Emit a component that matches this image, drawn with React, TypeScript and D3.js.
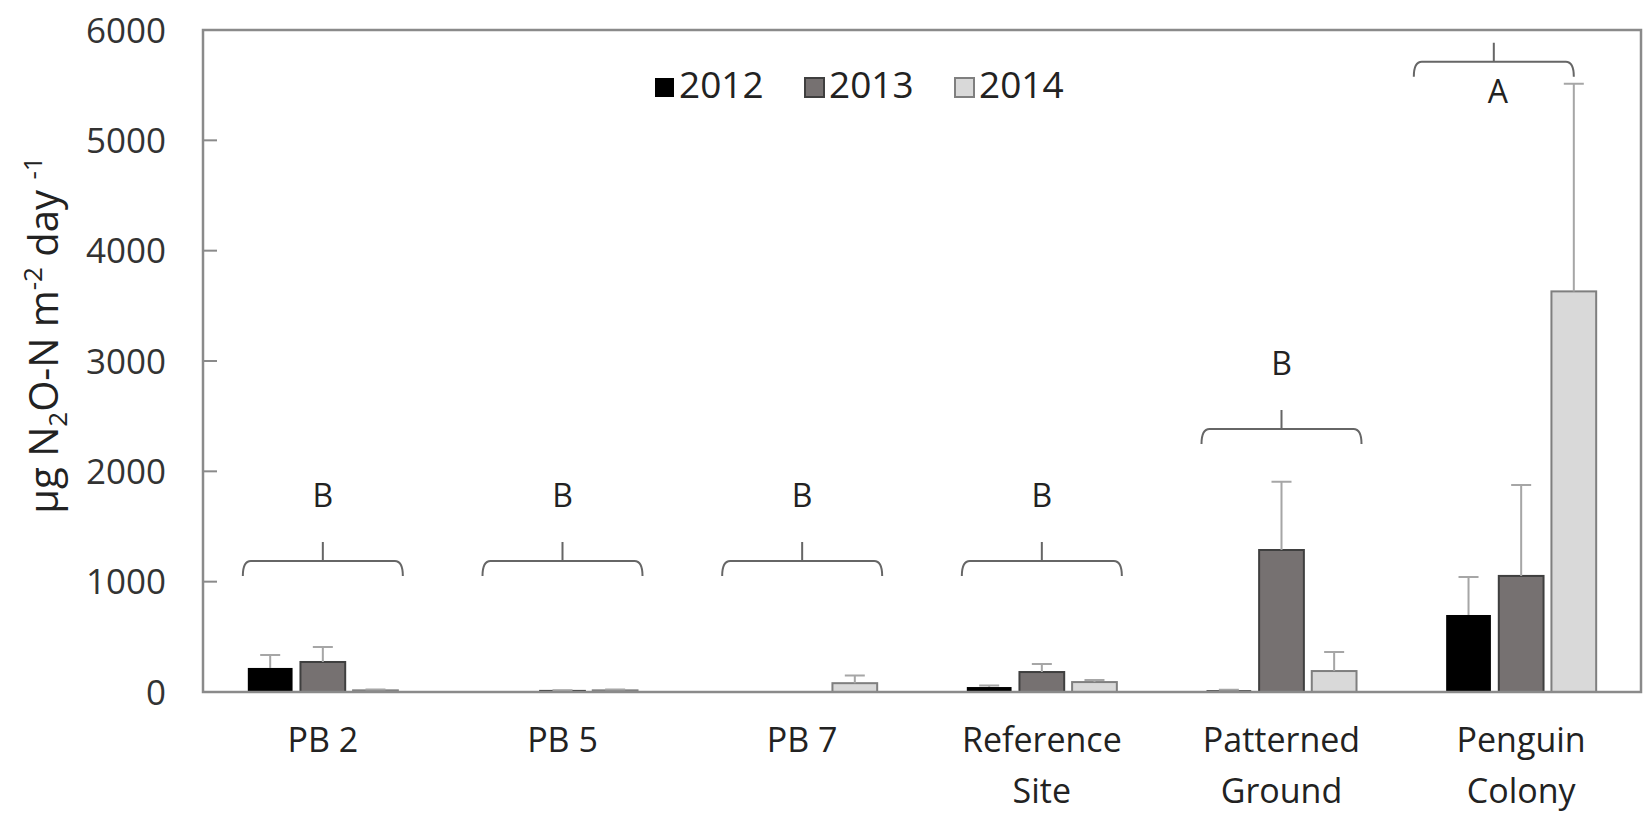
import React, { useEffect, useRef } from 'react';
import * as d3 from 'd3';

// sites and years
const categories = ['PB 2', 'PB 5', 'PB 7', 'Reference Site', 'Patterned Ground', 'Penguin Colony'];
const years = ['2012', '2013', '2014'];

// mean flux per year (µg N2O-N m-2 day-1), one entry per site
const values2012 = [218, 0, 0, 45, 15, 698];
const values2013 = [272, 10, 0, 181, 1287, 1052];
const values2014 = [15, 15, 80, 90, 190, 3631];

// upper error (SE) per year
const errors2012 = [117, 0, 0, 15, 5, 345];
const errors2013 = [136, 5, 0, 73, 618, 824];
const errors2014 = [8, 8, 70, 19, 173, 1881];

// significance letters and bracket level (in data units)
const letters = ['B', 'B', 'B', 'B', 'B', 'A'];
const bracketLevels = [1188, 1188, 1188, 1188, 2384, 5712];

const yTicks = [0, 1000, 2000, 3000, 4000, 5000, 6000];

const W = 1644;
const H = 817;
const FONT = '"Open Sans", "DejaVu Sans", sans-serif';

function App() {
    const ref = useRef<SVGSVGElement>(null);

    useEffect(() => {
        const svg = d3.select(ref.current);
        svg.selectAll('*').remove();

        const left = 203, right = 1641, top = 30, bottom = 692;

        const x0 = d3.scaleBand<string>()
            .domain(categories)
            .range([left, right])
            .paddingInner(0.374)
            .paddingOuter(0.187);

        const x1 = d3.scaleBand<string>()
            .domain(years)
            .range([0, x0.bandwidth()])
            .paddingInner(0.15);

        const y = d3.scaleLinear().domain([0, 6000]).range([bottom, top]);

        const fills = ['#000000', '#767171', '#d9d9d9'];
        const strokes = ['#000000', '#3f3f3f', '#7f7f7f'];
        const valueSets = [values2012, values2013, values2014];
        const errorSets = [errors2012, errors2013, errors2014];

        // y tick labels
        svg.append('g')
            .selectAll('text')
            .data(yTicks)
            .enter().append('text')
            .attr('x', 166)
            .attr('y', d => y(d))
            .attr('dy', '0.36em')
            .attr('text-anchor', 'end')
            .attr('font-family', FONT)
            .attr('font-size', 35)
            .attr('fill', '#333')
            .text(d => d);

        // inner tick marks
        svg.append('g')
            .selectAll('line')
            .data(yTicks.slice(1, -1))
            .enter().append('line')
            .attr('x1', left)
            .attr('x2', left + 14)
            .attr('y1', d => y(d))
            .attr('y2', d => y(d))
            .attr('stroke', '#8a8a8a')
            .attr('stroke-width', 2);

        // bars
        const groups = svg.append('g')
            .selectAll('g')
            .data(categories)
            .enter().append('g')
            .attr('transform', d => `translate(${x0(d)},0)`);

        years.forEach((yr, k) => {
            groups.append('rect')
                .attr('x', x1(yr)!)
                .attr('width', x1.bandwidth())
                .attr('y', (_, i) => y(valueSets[k][i]))
                .attr('height', (_, i) => bottom - y(valueSets[k][i]))
                .attr('fill', fills[k])
                .attr('stroke', strokes[k])
                .attr('stroke-width', k === 0 ? 0 : 2);

            // error bars (upper only)
            const cx = x1(yr)! + x1.bandwidth() / 2;
            groups.filter((_, i) => errorSets[k][i] > 0)
                .append('path')
                .attr('d', d => {
                    const i = categories.indexOf(d);
                    const y0 = y(valueSets[k][i]);
                    const y1 = y(valueSets[k][i] + errorSets[k][i]);
                    return `M${cx},${y0}V${y1}M${cx - 10},${y1}H${cx + 10}`;
                })
                .attr('stroke', '#a6a6a6')
                .attr('stroke-width', 2)
                .attr('fill', 'none');
        });

        // plot frame
        svg.append('rect')
            .attr('x', left)
            .attr('y', top)
            .attr('width', right - left)
            .attr('height', bottom - top)
            .attr('fill', 'none')
            .attr('stroke', '#8a8a8a')
            .attr('stroke-width', 2.5);

        // brackets and letters
        categories.forEach((c, i) => {
            const hw = 80;
            let cx = x0(c)! + x0.bandwidth() / 2;
            // if the tallest error bar reaches the bracket, end the bracket on it
            const lastTop = values2014[i] + errors2014[i];
            if (lastTop > bracketLevels[i] - 300) {
                cx = x0(c)! + x1(years[2])! + x1.bandwidth() / 2 - hw;
            }
            const by = y(bracketLevels[i]);
            const g = svg.append('g');
            g.append('path')
                .attr('d', `M${cx - hw},${by + 15}Q${cx - hw},${by} ${cx - hw + 8},${by}H${cx + hw - 8}Q${cx + hw},${by} ${cx + hw},${by + 15}M${cx},${by}V${by - 19}`)
                .attr('fill', 'none')
                .attr('stroke', '#666')
                .attr('stroke-width', 2);
            const below = by - 60 < top;
            g.append('text')
                .attr('x', cx + (below ? 4 : 0))
                .attr('y', below ? by + 41 : by - 54)
                .attr('text-anchor', 'middle')
                .attr('font-family', FONT)
                .attr('font-size', 32)
                .attr('fill', '#222')
                .text(letters[i]);
        });

        // category labels, wrapped onto two lines
        svg.append('g')
            .selectAll('text')
            .data(categories)
            .enter().append('text')
            .attr('text-anchor', 'middle')
            .attr('font-family', FONT)
            .attr('font-size', 34)
            .attr('fill', '#222')
            .each(function (d) {
                const t = d3.select(this);
                const cx = x0(d)! + x0.bandwidth() / 2;
                const words = d.startsWith('PB') ? [d] : d.split(' ');
                words.forEach((w, j) => {
                    t.append('tspan').attr('x', cx).attr('y', 752 + j * 51).text(w);
                });
            });

        // legend
        const legend = svg.append('g').attr('transform', 'translate(655,78)');
        years.forEach((yr, k) => {
            const lg = legend.append('g').attr('transform', `translate(${k * 150},0)`);
            lg.append('rect')
                .attr('width', 19)
                .attr('height', 19)
                .attr('fill', fills[k])
                .attr('stroke', strokes[k])
                .attr('stroke-width', k === 0 ? 0 : 2);
            lg.append('text')
                .attr('x', 24)
                .attr('y', 20)
                .attr('font-family', FONT)
                .attr('font-size', 37)
                .attr('fill', '#222')
                .text(yr);
        });

        // y axis title
        const title = svg.append('text')
            .attr('transform', 'translate(58,335) rotate(-90)')
            .attr('text-anchor', 'middle')
            .attr('font-family', FONT)
            .attr('font-size', 40)
            .attr('fill', '#222');
        title.append('tspan').text('µg N');
        title.append('tspan').attr('font-size', 26).attr('dy', 9).text('2');
        title.append('tspan').attr('dy', -9).text('O-N m');
        title.append('tspan').attr('font-size', 26).attr('dy', -16).text('-2');
        title.append('tspan').attr('dy', 16).text(' day ');
        title.append('tspan').attr('font-size', 26).attr('dy', -16).text('-1');
    }, []);

    return (
        <svg
            ref={ref}
            width={W}
            height={H}
            style={{ position: 'absolute', left: 0, top: 0, background: '#fff' }}
        />
    );
}

export default App;
